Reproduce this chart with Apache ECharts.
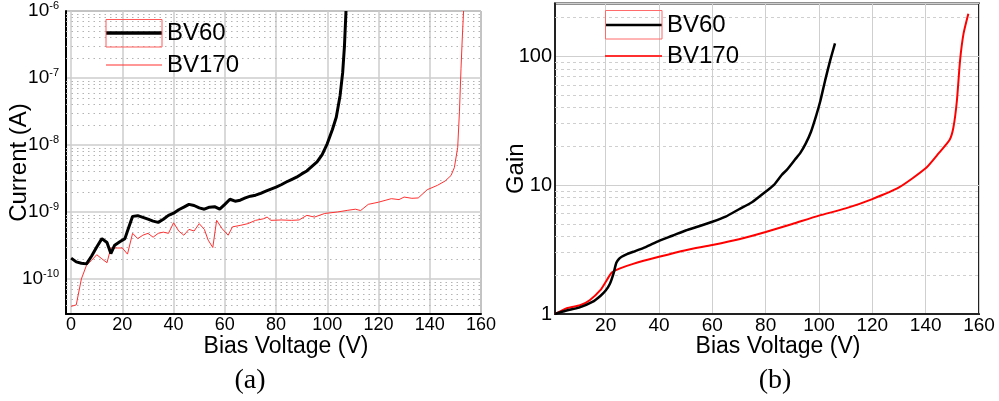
<!DOCTYPE html>
<html>
<head>
<meta charset="utf-8">
<script src="https://cdn.jsdelivr.net/npm/echarts@6/dist/echarts.min.js"></script>
<style>
html,body{margin:0;padding:0;background:#fff;}
#c{width:999px;height:401px;}
</style>
</head>
<body>
<div id="c"></div>
<script>
// ---- (a) Current (A) vs Bias Voltage (V) ----
var ivV60 = [0,2,4,6,8,10,12,14,15.5,17,19,21,22,24,26,28,30,32,34,36,38,40,42,44,46,48,50,52,54,56,58,60,62,64,66,68,70,72,74,76,78,80,82,84,86,88,90,92,94,96,98,100,102,103.5,105,106,106.7,107.3];
var ivI60 = [2.05e-10,1.8e-10,1.72e-10,1.68e-10,2.2e-10,3.0e-10,4.0e-10,3.5e-10,2.4e-10,3.2e-10,3.6e-10,4.0e-10,5.2e-10,8.6e-10,8.8e-10,8.3e-10,7.8e-10,7.3e-10,7.0e-10,7.8e-10,8.9e-10,9.6e-10,1.08e-9,1.18e-9,1.3e-9,1.25e-9,1.15e-9,1.1e-9,1.18e-9,1.2e-9,1.1e-9,1.3e-9,1.55e-9,1.45e-9,1.5e-9,1.62e-9,1.72e-9,1.78e-9,1.9e-9,2.05e-9,2.2e-9,2.35e-9,2.55e-9,2.8e-9,3.05e-9,3.3e-9,3.7e-9,4.1e-9,4.8e-9,5.6e-9,7.2e-9,1.05e-8,1.7e-8,2.6e-8,5.5e-8,1.2e-7,3e-7,1e-6];
var ivV170 = [0,2,4,6,8,10,12,14,15.5,18,20,22,24,26,28,30,32,34,36,38,40,42,44,46,48,50,52,53.5,55.3,56.8,59,61.3,63,66,69,72,75,76.5,78,82,86,89,92,95,99,104,108,111,113,116,120,125,128,130,133,135.5,139,143,146,148.3,149.6,150.9,151.6,152.2,152.7,153.2];
var ivI170 = [3.9e-11,4.1e-11,1.0e-10,1.6e-10,1.9e-10,2.3e-10,2.0e-10,1.75e-10,2.9e-10,2.9e-10,2.9e-10,2.35e-10,4.8e-10,4.0e-10,4.5e-10,4.8e-10,4.2e-10,4.8e-10,5.0e-10,4.8e-10,6.9e-10,5.2e-10,4.5e-10,5.5e-10,5.2e-10,6.7e-10,5.5e-10,3.8e-10,2.95e-10,7.5e-10,5.6e-10,4.5e-10,6.0e-10,6.3e-10,6.7e-10,7.5e-10,7.9e-10,8.4e-10,7.5e-10,7.6e-10,7.5e-10,7.6e-10,8.9e-10,8.4e-10,9.5e-10,1.0e-9,1.06e-9,1.1e-9,1.05e-9,1.3e-9,1.4e-9,1.58e-9,1.53e-9,1.67e-9,1.6e-9,1.62e-9,2.15e-9,2.5e-9,2.9e-9,3.5e-9,4.6e-9,9.2e-9,3.2e-8,1.4e-7,4e-7,1e-6];

// ---- (b) Gain vs Bias Voltage (V) ----
var gV60 = [1,5,10,15,18,20,21.5,22.9,24,25,26,28,30.4,35,40,45,50,55,60,65,70,75,80,83,86,88,91,93,95,97,99,100.5,102.3,104.2,106];
var gG60 = [1.0,1.06,1.12,1.24,1.38,1.52,1.7,2.05,2.5,2.68,2.78,2.92,3.04,3.3,3.7,4.05,4.45,4.8,5.2,5.7,6.5,7.4,8.9,10,12,13.2,15.8,17.8,21,26,35,45,65,93,126];
var gV170 = [1,5.4,10.4,14,18,20.4,22.3,25.4,30,40,50,60,70,80,90,100,110,120,130,140,145,149,150.4,151.7,152.9,154.2,156];
var gG170 = [1.0,1.11,1.17,1.28,1.53,1.83,2.1,2.26,2.44,2.78,3.13,3.43,3.8,4.33,5.0,5.8,6.6,7.8,9.6,13.5,17.8,22.5,28,45,93,150,214];

var xTickName = 'Bias Voltage (V)';
var yNameA = 'Current (A)';
var yNameB = 'Gain';
var legendNames = ['BV60', 'BV170'];
var captions = ['(a)', '(b)'];

// axis (a) is laid out in picoamperes internally (avoids float rounding of tiny
// values in markers); its labels are shown in amperes as 10^n.
var PA_EXP = 12, PA = 1e12;
function pairs(xs, ys, scale){ return xs.map(function(x,i){ return [x, ys[i] * (scale || 1)]; }); }
function logMinor(lo, hi){
  var out = [];
  for (var e = Math.floor(Math.log10(lo)); e <= Math.ceil(Math.log10(hi)); e++){
    for (var k = 2; k <= 9; k++){
      var v = k * Math.pow(10, e);
      if (v > lo * 1.0001 && v < hi * 0.9999) out.push({yAxis: v});
    }
  }
  return out;
}

var yMinA = 3e-11 * PA, yMaxA = 1e-6 * PA, yMinB = 1, yMaxB = 257;
var FONT = 'Liberation Sans, Arial, sans-serif';

var chart = echarts.init(document.getElementById('c'), null, {renderer:'canvas'});
var option = {
  animation: false,
  backgroundColor: '#fff',
  textStyle: {fontFamily: FONT, color: '#000'},
  grid: [
    {left: 66, top: 9.5, width: 415, height: 304.5, show: true, borderColor: '#555', borderWidth: 1, containLabel: false},
    {left: 555, top: 3.5, width: 424, height: 310.5, show: true, borderColor: '#222', borderWidth: 2, containLabel: false}
  ],
  legend: [
    {data: [{name: legendNames[0], icon: 'rect'}], left: 106, top: 21, itemWidth: 56, itemHeight: 3.5, padding: 0, textStyle: {fontSize: 24, fontFamily: FONT, color: '#000'}},
    {data: [{name: legendNames[1], icon: 'rect'}], left: 106, top: 53, itemWidth: 56, itemHeight: 1.2, padding: 0, textStyle: {fontSize: 24, fontFamily: FONT, color: '#000'}},
    {data: [{name: legendNames[0], icon: 'rect'}], left: 605, top: 13, itemWidth: 57, itemHeight: 2.5, padding: 0, textStyle: {fontSize: 24, fontFamily: FONT, color: '#000'}},
    {data: [{name: legendNames[1], icon: 'rect'}], left: 605, top: 44, itemWidth: 57, itemHeight: 2.2, padding: 0, textStyle: {fontSize: 24, fontFamily: FONT, color: '#000'}}
  ],
  xAxis: [
    {gridIndex: 0, type: 'value', min: -2, max: 160, splitNumber: 8,
     name: xTickName, nameLocation: 'middle', nameGap: 21, nameMoveOverlap: false,
     nameTextStyle: {fontSize: 23, fontFamily: FONT, color: '#000', padding: [0,0,0,25]},
     axisLine: {show: true, onZero: false, lineStyle: {color: '#000', width: 2}},
     axisTick: {show: false},
     axisLabel: {fontSize: 18, color: '#000', margin: 2, showMinLabel: false, fontFamily: FONT},
     splitLine: {show: true, lineStyle: {color: '#cdcdcd', width: 1.5}}},
    {gridIndex: 1, type: 'value', min: 1, max: 160, splitNumber: 8,
     name: xTickName, nameLocation: 'middle', nameGap: 21, nameMoveOverlap: false,
     nameTextStyle: {fontSize: 23, fontFamily: FONT, color: '#000', padding: [0,0,0,22]},
     axisLine: {show: true, onZero: false, lineStyle: {color: '#222', width: 2}},
     axisTick: {show: false},
     axisLabel: {fontSize: 19, color: '#000', margin: 2, showMinLabel: false, fontFamily: FONT},
     splitLine: {show: true, lineStyle: {color: '#cfcfcf', width: 1}}}
  ],
  yAxis: [
    {gridIndex: 0, type: 'log', logBase: 10, min: yMinA, max: yMaxA,
     name: yNameA, nameLocation: 'middle', nameGap: 35, nameMoveOverlap: false,
     nameTextStyle: {fontSize: 24, fontFamily: FONT, color: '#000'},
     axisLine: {show: true, onZero: false, lineStyle: {color: '#000', width: 2}},
     axisTick: {show: false},
     axisLabel: {margin: 7, showMinLabel: false, fontFamily: FONT,
       formatter: function(v){ var e = Math.round(Math.log10(v)) - PA_EXP; return '{b|10}{s|' + e + '}'; },
       rich: {b: {fontSize: 19, lineHeight: 22, color: '#000', fontFamily: FONT},
              s: {fontSize: 11, lineHeight: 12, verticalAlign: 'top', color: '#000', fontFamily: FONT}}},
     splitLine: {show: true, lineStyle: {color: '#cdcdcd', width: 1.5}}},
    {gridIndex: 1, type: 'log', logBase: 10, min: yMinB, max: yMaxB,
     name: yNameB, nameLocation: 'middle', nameGap: 27, nameMoveOverlap: false,
     nameTextStyle: {fontSize: 24, fontFamily: FONT, color: '#000', padding: [0,20,0,0]},
     axisLine: {show: true, onZero: false, lineStyle: {color: '#222', width: 2}},
     axisTick: {show: false},
     axisLabel: {fontSize: 20, color: '#000', margin: 3, showMaxLabel: false, fontFamily: FONT},
     splitLine: {show: true, lineStyle: {color: '#cfcfcf', width: 1}}}
  ],
  graphic: [
    {type: 'rect', shape: {x: 106, y: 19.5, width: 56, height: 27.5}, style: {fill: 'none', stroke: '#ff5a5a', lineWidth: 1}, z: 100, silent: true},
    {type: 'rect', shape: {x: 605.5, y: 10.5, width: 56.5, height: 28.5}, style: {fill: 'none', stroke: '#ff6a6a', lineWidth: 1}, z: 100, silent: true},
    {type: 'text', x: 250, y: 381, style: {text: captions[0], font: '28px "Liberation Serif", serif', fill: '#000', align: 'center', verticalAlign: 'middle'}},
    {type: 'text', x: 775, y: 381, style: {text: captions[1], font: '28px "Liberation Serif", serif', fill: '#000', align: 'center', verticalAlign: 'middle'}}
  ],
  series: [
    {name: legendNames[0], type: 'line', xAxisIndex: 0, yAxisIndex: 0, data: pairs(ivV60, ivI60, PA),
     showSymbol: false, symbol: 'none', color: '#000', lineStyle: {color: '#000', width: 3}, z: 3},
    {name: legendNames[1], type: 'line', xAxisIndex: 0, yAxisIndex: 0, data: pairs(ivV170, ivI170, PA),
     showSymbol: false, symbol: 'none', color: '#ff3030', lineStyle: {color: '#ff3030', width: 1}, z: 2,
     markLine: {silent: true, symbol: ['none','none'], label: {show: false}, z: 1, animation: false,
       lineStyle: {type: [1.5,4], color: '#b4b4b4', width: 1}, emphasis: {disabled: true},
       data: logMinor(yMinA, yMaxA)}},
    {name: legendNames[0], type: 'line', xAxisIndex: 1, yAxisIndex: 1, data: pairs(gV60, gG60), smooth: 0.2,
     showSymbol: false, symbol: 'none', color: '#000', lineStyle: {color: '#000', width: 2.5}, z: 3},
    {name: legendNames[1], type: 'line', xAxisIndex: 1, yAxisIndex: 1, data: pairs(gV170, gG170), smooth: 0.2,
     showSymbol: false, symbol: 'none', color: '#ff0000', lineStyle: {color: '#ff0000', width: 2}, z: 2,
     markLine: {silent: true, symbol: ['none','none'], label: {show: false}, z: 1, animation: false,
       lineStyle: {type: [3,3], color: '#cfcfcf', width: 1}, emphasis: {disabled: true},
       data: logMinor(yMinB, yMaxB)}}
  ]
};
chart.setOption(option);
</script>
</body>
</html>
